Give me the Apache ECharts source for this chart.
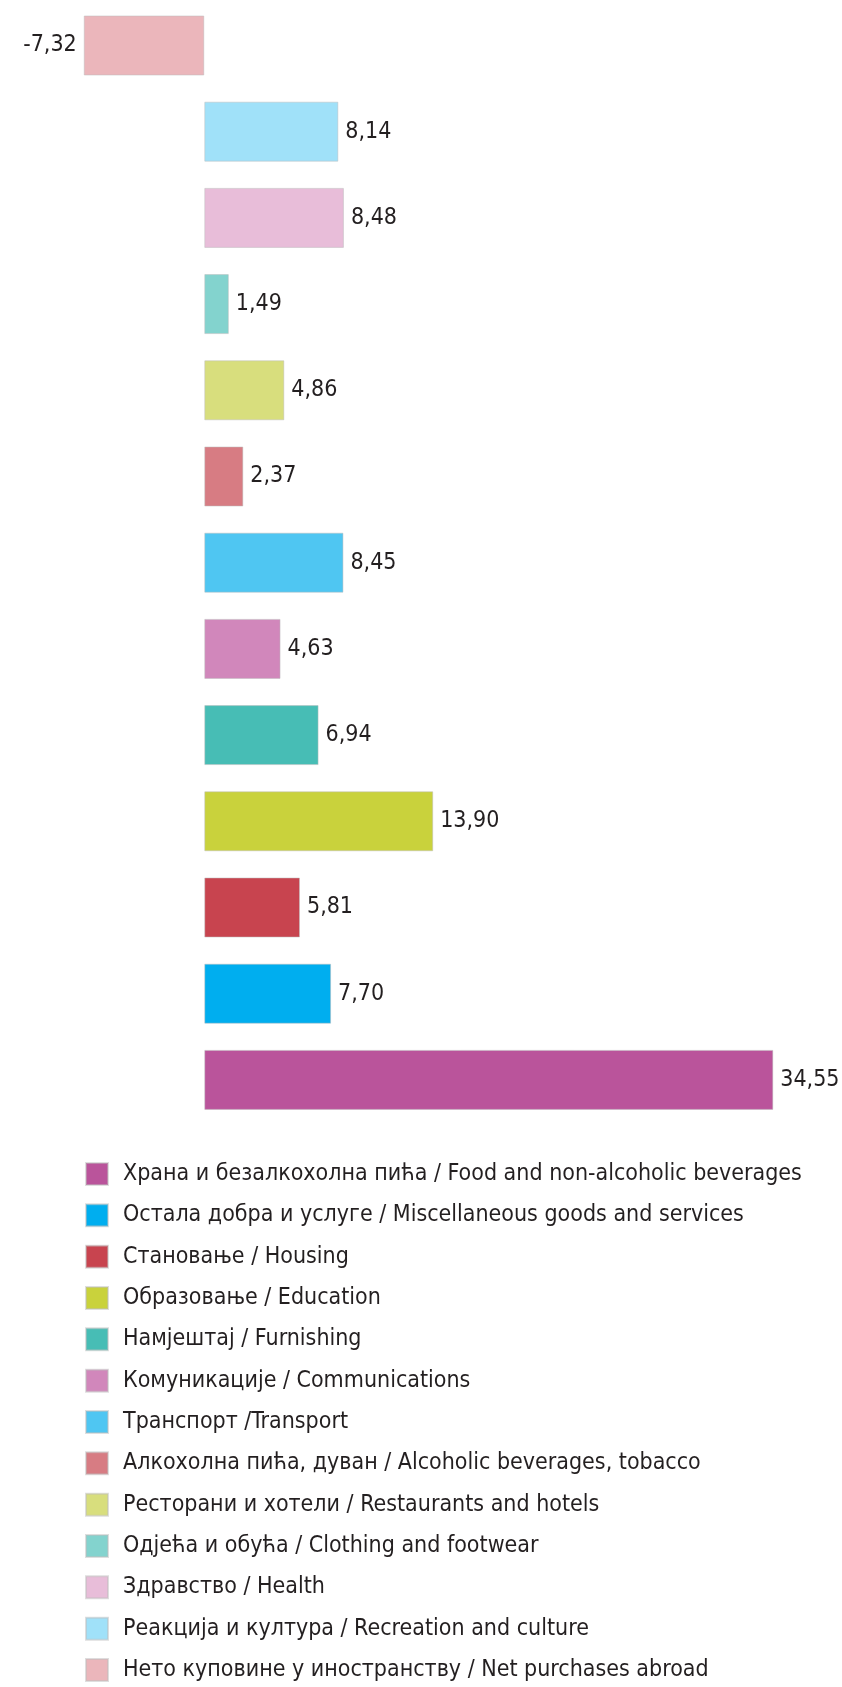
<!DOCTYPE html>
<html>
<head>
<meta charset="utf-8">
<title>Household expenditure structure</title>
<script src="https://cdn.jsdelivr.net/npm/echarts@6/dist/echarts.min.js"></script>
<style>
  html, body { margin: 0; padding: 0; background: #fff; }
  #chart { width: 842px; height: 1687px; }
</style>
</head>
<body>
<div id="chart"></div>
<script>
// categories, top to bottom as drawn
const categories = [
  "Нето куповине у иностранству / Net purchases abroad",
  "Реакција и култура / Recreation and culture",
  "Здравство / Health",
  "Одјећа и обућа / Clothing and footwear",
  "Ресторани и хотели / Restaurants and hotels",
  "Алкохолна пића, дуван / Alcoholic beverages, tobacco",
  "Транспорт /Transport",
  "Комуникације / Communications",
  "Намјештај / Furnishing",
  "Образовање / Education",
  "Становање / Housing",
  "Остала добра и услуге / Miscellaneous goods and services",
  "Храна и безалкохолна пића / Food and non-alcoholic beverages"
];
const values = [-7.32, 8.14, 8.48, 1.49, 4.86, 2.37, 8.45, 4.63, 6.94, 13.90, 5.81, 7.70, 34.55];
const colors = [
  "#ebb6bb", "#a0e1f9", "#e8bdd9", "#83d3ce", "#d8de7d", "#d77c83", "#4fc6f2",
  "#d187bb", "#47bdb5", "#c9d23c", "#c8444f", "#00aeef", "#ba549b"
];
// legend lists them bottom to top
const legendOrder = categories.slice().reverse();

const fontFamily = '"Liberation Sans Narrow", "DejaVu Sans Condensed", sans-serif';

const chart = echarts.init(document.getElementById('chart'));

const series = categories.map((name, i) => ({
  name: name,
  type: 'bar',
  barWidth: 60,
  barGap: '-100%',
  itemStyle: {
    color: colors[i],
    borderColor: 'rgba(190,190,190,0.5)',
    borderWidth: 1
  },
  label: {
    show: true,
    position: values[i] < 0 ? 'left' : 'right',
    distance: 7,
    color: '#231f20',
    fontFamily: fontFamily,
    fontSize: 23,
    formatter: p => p.value.toFixed(2).replace('.', ',')
  },
  emphasis: { disabled: true },
  data: categories.map((c, j) => (j === i ? values[i] : '-'))
}));

const option = {
  animation: false,
  grid: {
    left: 39.6,
    right: 61.3,
    top: 2.4,
    height: 1120.6
  },
  xAxis: {
    type: 'value',
    min: -10,
    max: 35,
    show: false
  },
  yAxis: {
    type: 'category',
    inverse: true,
    data: categories,
    show: false
  },
  legend: {
    orient: 'vertical',
    left: 85,
    top: 1162,
    height: 560,
    padding: 0,
    data: legendOrder,
    icon: 'rect',
    itemWidth: 22,
    itemHeight: 22,
    itemGap: 17.33,
    selectedMode: false,
    textStyle: {
      fontFamily: fontFamily,
      fontSize: 23,
      lineHeight: 22,
      color: '#231f20',
      padding: [0, 0, 0, 10]
    }
  },
  series: series
};

chart.setOption(option);
</script>
</body>
</html>
